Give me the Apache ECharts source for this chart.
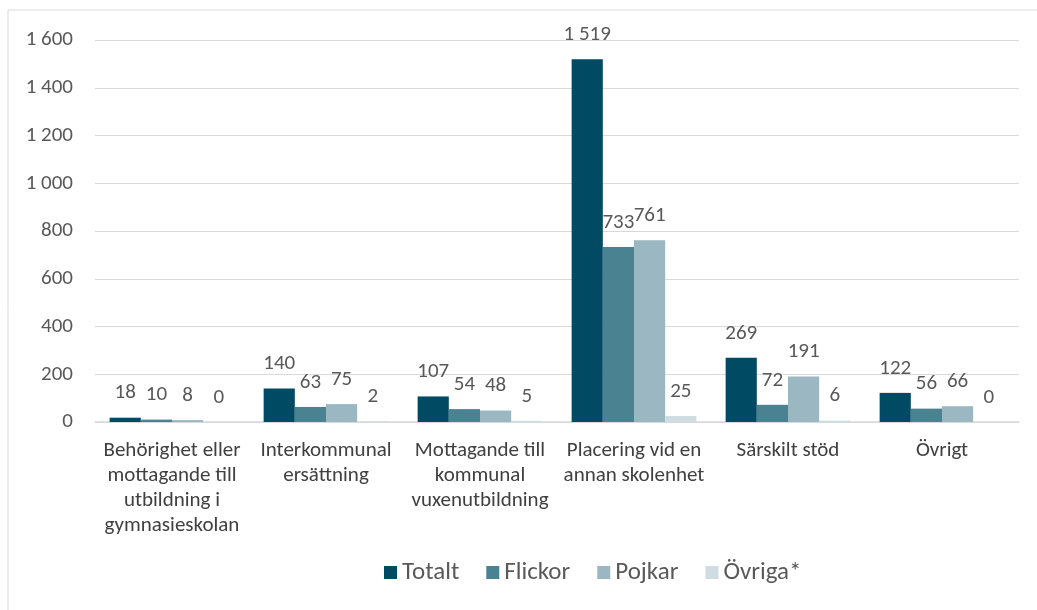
<!DOCTYPE html>
<html>
<head>
<meta charset="utf-8">
<script src="https://cdn.jsdelivr.net/npm/echarts@6/dist/echarts.min.js"></script>
<style>
  html, body { margin: 0; padding: 0; background: #fff; }
  #chart { width: 1037px; height: 610px; }
</style>
</head>
<body>
<div id="chart"></div>
<script>
var categories = [
  'Behörighet eller\nmottagande till\nutbildning i\ngymnasieskolan',
  'Interkommunal\nersättning',
  'Mottagande till\nkommunal\nvuxenutbildning',
  'Placering vid en\nannan skolenhet',
  'Särskilt stöd',
  'Övrigt'
];
var totalt  = [18, 140, 107, 1519, 269, 122];
var flickor = [10, 63, 54, 733, 72, 56];
var pojkar  = [8, 75, 48, 761, 191, 66];
var ovriga  = [0, 2, 5, 25, 6, 0];

var seriesNames = ['Totalt', 'Flickor', 'Pojkar', 'Övriga*'];
var seriesData = [totalt, flickor, pojkar, ovriga];
var colors = ['#004b63', '#4b8292', '#9bb8c2', '#cfdde2'];

var font = "'Carlito', 'Open Sans', 'Liberation Sans', sans-serif";

// tusentalsavgränsare med mellanslag
function fmt(v) {
  return String(v).replace(/\B(?=(\d{3})+(?!\d))/g, ' ');
}

var series = [];
for (var i = 0; i < seriesNames.length; i++) {
  series.push({
    name: seriesNames[i],
    type: 'bar',
    data: seriesData[i],
    barGap: '0%',
    barCategoryGap: '19%',
    itemStyle: { color: colors[i] },
    label: {
      show: true,
      position: 'top',
      distance: 14,
      color: '#595959',
      fontSize: 21,
      fontFamily: font,
      formatter: function (p) { return fmt(p.value); }
    }
  });
}

var myChart = echarts.init(document.getElementById('chart'));
var option = {
  animation: false,
  textStyle: { fontFamily: font },
  graphic: [{
    type: 'rect',
    shape: { x: 8, y: 10, width: 1040, height: 620 },
    style: { fill: 'none', stroke: '#d9d9d9', lineWidth: 1 },
    silent: true
  }],
  grid: { left: 95, right: 18, top: 40, bottom: 188 },
  legend: {
    data: seriesNames,
    bottom: 20,
    left: 379,
    itemWidth: 13,
    itemHeight: 13,
    itemGap: 27,
    icon: 'rect',
    textStyle: { color: '#595959', fontSize: 25, fontFamily: font }
  },
  xAxis: {
    type: 'category',
    data: categories,
    axisLine: { lineStyle: { color: '#d9d9d9', width: 1.5 } },
    axisTick: { show: false },
    axisLabel: {
      interval: 0,
      color: '#404040',
      fontSize: 21,
      lineHeight: 25,
      margin: 16,
      fontFamily: font
    }
  },
  yAxis: {
    type: 'value',
    min: 0,
    max: 1600,
    interval: 200,
    axisLine: { show: false },
    axisTick: { show: false },
    splitLine: { lineStyle: { color: '#d9d9d9', width: 1 } },
    axisLabel: {
      color: '#595959',
      fontSize: 21,
      margin: 22,
      fontFamily: font,
      formatter: fmt
    }
  },
  series: series
};
myChart.setOption(option);
</script>
</body>
</html>
